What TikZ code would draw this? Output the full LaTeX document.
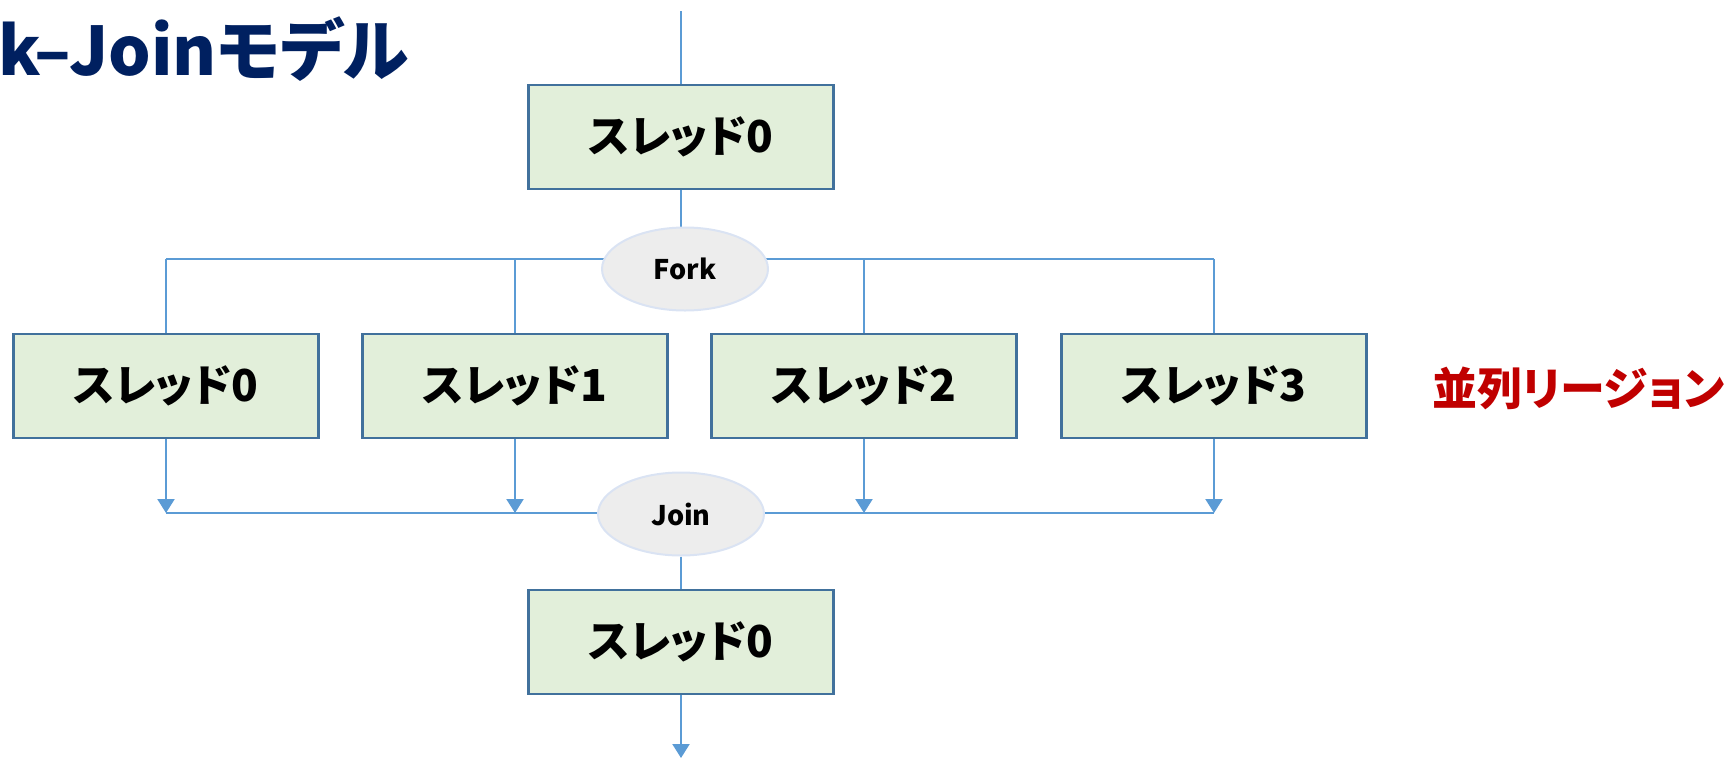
\documentclass[tikz,border=0pt]{standalone}
\usepackage{fontspec}
\newfontfamily\jpfont{Noto Sans CJK JP}[RawFeature=+palt]
\usepackage{tikz}
\usetikzlibrary{arrows.meta,shapes.geometric,backgrounds}

\definecolor{lineblue}{HTML}{5B9BD5}
\definecolor{boxedge}{HTML}{41719C}
\definecolor{boxfill}{HTML}{E2EFDA}
\definecolor{ovalfill}{HTML}{EDEDED}
\definecolor{ovaledge}{HTML}{DAE3F3}
\definecolor{titleblue}{HTML}{002060}
\definecolor{regionred}{HTML}{C00000}

\tikzset{
  thread/.style={draw=boxedge, fill=boxfill, line width=2.5pt,
    minimum width=305pt, minimum height=104pt, inner sep=0pt,
    font=\jpfont\bfseries\fontsize{44}{50}\selectfont},
  junction/.style={ellipse, draw=ovaledge, fill=ovalfill, line width=2pt,
    minimum width=166pt, minimum height=83pt, inner sep=0pt,
    font=\jpfont\bfseries\fontsize{27}{30}\selectfont},
  flow/.style={draw=lineblue, line width=2.2pt},
  tip/.style={-{Triangle[length=14pt,width=17pt]}}
}

\begin{document}
\begin{tikzpicture}[x=1pt,y=-1pt]
\useasboundingbox (0,0) rectangle (1728,758);

% heading (runs off the left edge)
\node[anchor=base east, inner sep=0pt, text=titleblue,
  font=\jpfont\bfseries\fontsize{67}{72}\selectfont] (title) at (409,75) {Fork–Joinモデル};

% threads
\node[thread] (t0) at (681,137) {スレッド0};
\node[thread] (p0) at (166,386) {スレッド0};
\node[thread] (p1) at (515,386) {スレッド1};
\node[thread] (p2) at (864,386) {スレッド2};
\node[thread] (p3) at (1214,386) {スレッド3};
\node[thread] (b0) at (681,642) {スレッド0};

\node[junction] (fork) at (685,269) {Fork};
\node[junction] (join) at (681,514) {Join};

\node[anchor=east, inner sep=0pt, text=regionred,
  font=\jpfont\bfseries\fontsize{45}{50}\selectfont] (region) at (1725,388) {並列リージョン};

\coordinate (in) at (681,11);
\coordinate (out) at (681,758);
\coordinate (forkbus) at (0,259);
\coordinate (joinbus) at (0,513);

% connectors behind the boxes and ovals
\begin{scope}[on background layer]
\draw[flow] (in) -- (t0);
\draw[flow] (t0.south) -- (t0.south |- fork.north);
\draw[flow] (p0.north |- forkbus) -- (p3.north |- forkbus);
\draw[flow] (p0.south |- joinbus) -- (p3.south |- joinbus);
\foreach \p in {p0,p1,p2,p3} {
  \draw[flow] (\p.north |- forkbus) -- (\p.north);
  \draw[flow,tip] (\p.south) -- (\p.south |- joinbus);
}
\draw[flow] (join) -- (b0);
\draw[flow,tip] (b0) -- (out);
\end{scope}
\end{tikzpicture}
\end{document}
